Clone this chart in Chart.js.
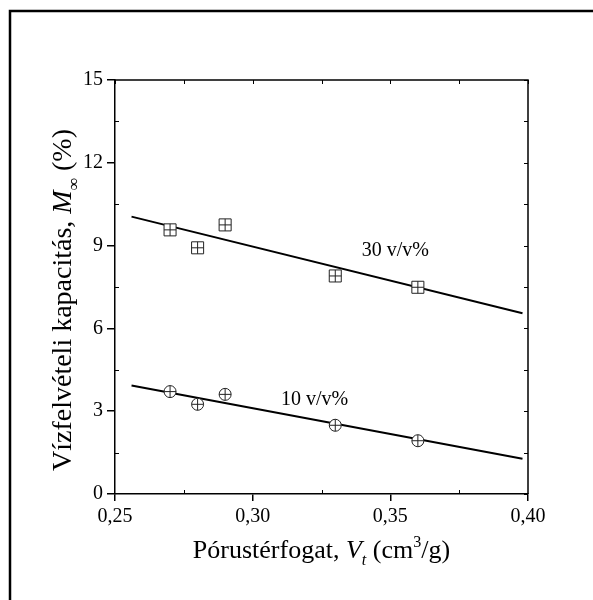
<!DOCTYPE html>
<html>
<head>
<meta charset="utf-8">
<script src="https://cdn.jsdelivr.net/npm/chart.js@4.4.1/dist/chart.umd.min.js"></script>
<style>
  html, body { margin: 0; padding: 0; background: #fff; }
  #wrap { width: 593px; height: 600px; position: relative; }
</style>
</head>
<body>
<div id="wrap"><canvas id="plot"></canvas></div>
<script>
// pórustérfogat (cm3/g)
const porusTerfogat = [0.27, 0.28, 0.29, 0.33, 0.36];
// vízfelvétel (%)
const viz30 = [9.57, 8.92, 9.75, 7.90, 7.49];
const viz10 = [3.71, 3.25, 3.61, 2.49, 1.93];
// illesztett egyenesek
const illesztX = [0.256, 0.398];
const illeszt30 = [10.05, 6.55];
const illeszt10 = [3.93, 1.28];
// tengelyek
const xMin = 0.25, xMax = 0.40, xStep = 0.05;
const yMin = 0, yMax = 15, yStep = 3;
const sorozatNevek = ['30 v/v%', '10 v/v%'];

const serif = "'Liberation Serif', 'Times New Roman', serif";

let pontok = (xs, ys) => xs.map((x, i) => ({x: x, y: ys[i]}));

// feliratok helye adat-koordinátákban
const feliratHely = [
  {x: 0.3518, y: 8.8},
  {x: 0.3225, y: 3.4}
];

let rajzolSzoveg = (ctx, darabok, size, x, y) => {
  // darabok: [szöveg, dőlt?, 'sub'|'sup'|null]
  let fontOf = (d) => {
    let s = d[2] ? size * 0.62 : size;
    return (d[1] ? 'italic ' : '') + s + 'px ' + serif;
  };
  let total = 0;
  darabok.forEach(d => { ctx.font = fontOf(d); total += ctx.measureText(d[0]).width; });
  let cx = x - total / 2;
  darabok.forEach(d => {
    ctx.font = fontOf(d);
    let dy = d[2] === 'sub' ? size * 0.28 : d[2] === 'sup' ? -size * 0.42 : 0;
    ctx.fillText(d[0], cx, y + dy);
    cx += ctx.measureText(d[0]).width;
  });
};

const keretPlugin = {
  id: 'keret',
  afterDraw(chart) {
    const ctx = chart.ctx;
    const a = chart.chartArea;
    const xs = chart.scales.x, ys = chart.scales.y;
    ctx.save();

    // külső keret
    ctx.strokeStyle = '#000';
    ctx.lineWidth = 2.5;
    ctx.beginPath();
    ctx.moveTo(10, 600);
    ctx.lineTo(10, 11);
    ctx.lineTo(593, 11);
    ctx.stroke();

    // tengelydoboz: felső és jobb oldal
    ctx.lineWidth = 1.5;
    ctx.beginPath();
    ctx.moveTo(a.left, a.top);
    ctx.lineTo(a.right, a.top);
    ctx.lineTo(a.right, a.bottom);
    ctx.stroke();

    // kis osztások
    ctx.lineWidth = 1;
    ctx.beginPath();
    for (let v = xMin; v <= xMax + 1e-9; v += xStep / 2) {
      let px = Math.round(xs.getPixelForValue(v)) + 0.5;
      ctx.moveTo(px, a.top); ctx.lineTo(px, a.top + 4);
      if (Math.abs((v - xMin) / xStep - Math.round((v - xMin) / xStep)) > 0.1) {
        ctx.moveTo(px, a.bottom); ctx.lineTo(px, a.bottom - 4);
      }
    }
    for (let v = yMin; v <= yMax + 1e-9; v += yStep / 2) {
      let py = Math.round(ys.getPixelForValue(v)) + 0.5;
      ctx.moveTo(a.right, py); ctx.lineTo(a.right - 4, py);
      if (Math.abs((v - yMin) / yStep - Math.round((v - yMin) / yStep)) > 0.1) {
        ctx.moveTo(a.left, py); ctx.lineTo(a.left + 4, py);
      }
    }
    ctx.stroke();

    // sorozat feliratok
    ctx.fillStyle = '#000';
    ctx.textAlign = 'center';
    ctx.textBaseline = 'middle';
    ctx.font = '20px ' + serif;
    sorozatNevek.forEach((nev, i) => {
      ctx.fillText(nev, xs.getPixelForValue(feliratHely[i].x), ys.getPixelForValue(feliratHely[i].y));
    });

    // tengelycímek
    ctx.textAlign = 'left';
    ctx.textBaseline = 'alphabetic';
    rajzolSzoveg(ctx, [
      ['Pórustérfogat, ', false, null],
      ['V', true, null],
      ['t', true, 'sub'],
      [' (cm', false, null],
      ['3', false, 'sup'],
      ['/g)', false, null]
    ], 26, (a.left + a.right) / 2, 558);

    ctx.translate(71, 300);
    ctx.rotate(-Math.PI / 2);
    rajzolSzoveg(ctx, [
      ['Vízfelvételi kapacitás, ', false, null],
      ['M', true, null],
      ['\u221E', false, 'sub'],
      [' (%)', false, null]
    ], 28, 0, 0);

    ctx.restore();
  }
};

let vonal = (adat) => ({
  data: adat,
  showLine: true,
  borderColor: '#000',
  borderWidth: 2,
  pointRadius: 0,
  fill: false,
  order: 3
});

let jel = (adat, stilus, r, order) => ({
  data: adat,
  showLine: false,
  pointStyle: stilus,
  pointRadius: r,
  pointBorderWidth: 1,
  pointBorderColor: '#222',
  pointBackgroundColor: '#fff',
  order: order
});

let plotRef = document.getElementById('plot');

let config = {
  type: 'scatter',
  data: {
    datasets: [
      vonal(pontok(illesztX, illeszt30)),
      vonal(pontok(illesztX, illeszt10)),
      jel(pontok(porusTerfogat, viz30), 'rect', 8.5, 2),
      jel(pontok(porusTerfogat, viz30), 'cross', 6, 1),
      jel(pontok(porusTerfogat, viz10), 'circle', 6, 2),
      jel(pontok(porusTerfogat, viz10), 'cross', 6, 1)
    ]
  },
  options: {
    responsive: true,
    maintainAspectRatio: false,
    animation: false,
    events: [],
    layout: { padding: { top: 80, right: 65, left: 0, bottom: 0 } },
    plugins: {
      legend: { display: false },
      tooltip: { enabled: false }
    },
    scales: {
      x: {
        type: 'linear',
        min: xMin,
        max: xMax,
        afterFit: s => { s.height = 106; },
        ticks: {
          stepSize: xStep,
          autoSkip: false,
          maxRotation: 0,
          padding: 4,
          color: '#000',
          font: { family: serif, size: 20 },
          callback: v => v.toFixed(2).replace('.', ',')
        },
        grid: { display: true, drawOnChartArea: false, drawTicks: true, tickLength: 7, color: '#000', lineWidth: 1.5 },
        border: { display: true, color: '#000', width: 1.5 }
      },
      y: {
        min: yMin,
        max: yMax,
        afterFit: s => { s.width = 115; },
        ticks: {
          stepSize: yStep,
          padding: 4,
          color: '#000',
          font: { family: serif, size: 20 }
        },
        grid: { display: true, drawOnChartArea: false, drawTicks: true, tickLength: 8, color: '#000', lineWidth: 1.5 },
        border: { display: true, color: '#000', width: 1.5 }
      }
    }
  },
  plugins: [keretPlugin]
};

let chart1 = new Chart(plotRef, config);
</script>
</body>
</html>
